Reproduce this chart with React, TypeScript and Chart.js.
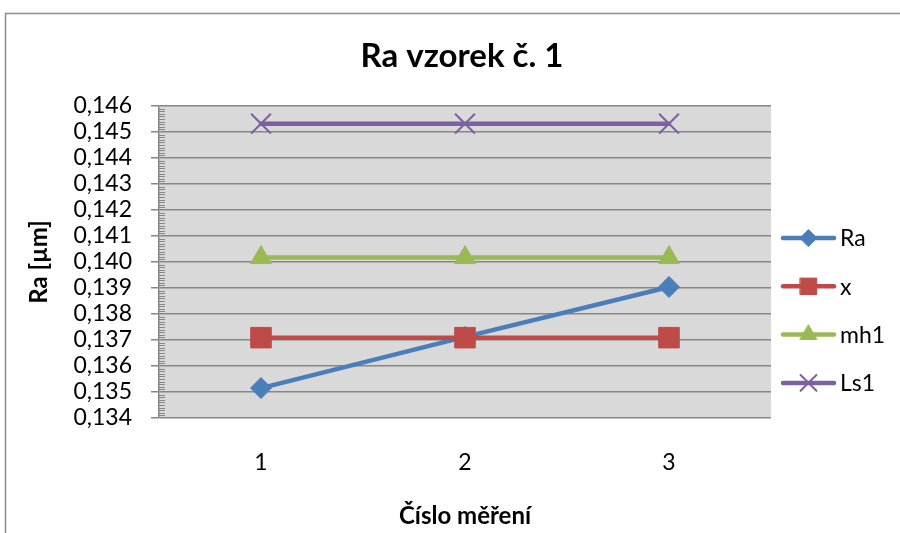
import React, { useEffect, useRef } from 'react';
import { Chart, registerables } from 'chart.js';
import { drawPoint } from 'chart.js/helpers';

Chart.register(...registerables);

const categories = ['1', '2', '3'];
const raValues = [0.13515, 0.13712, 0.13904];
const xValues = [0.13709, 0.13709, 0.13709];
const mh1Values = [0.14017, 0.14017, 0.14017];
const ls1Values = [0.14532, 0.14532, 0.14532];
const seriesNames = ['Ra', 'x', 'mh1', 'Ls1'];
const yMin = 0.134;
const yMax = 0.146;
const yStep = 0.001;
const yMinorStep = 0.0001;
const titleText = 'Ra vzorek č. 1';
const yTitle = 'Ra [µm]';
const xTitle = 'Číslo měření';

const FONT = 'Lato';
const GRID = '#868686';

const bgPlugin = {
  id: 'bgPlugin',
  beforeDraw(chart: any) {
    const { ctx, width, height, chartArea } = chart;
    ctx.save();
    ctx.fillStyle = '#ffffff';
    ctx.fillRect(0, 0, width, height);
    ctx.strokeStyle = '#8c8c8c';
    ctx.lineWidth = 1.5;
    ctx.beginPath();
    ctx.moveTo(5.5, height);
    ctx.lineTo(5.5, 13.5);
    ctx.lineTo(width, 13.5);
    ctx.stroke();
    ctx.fillStyle = '#d9d9d9';
    ctx.fillRect(chartArea.left, chartArea.top, chartArea.right - chartArea.left, chartArea.bottom - chartArea.top);
    ctx.restore();
  },
  beforeDatasetsDraw(chart: any) {
    const { ctx, chartArea } = chart;
    const y = chart.scales.y;
    ctx.save();
    ctx.strokeStyle = GRID;
    ctx.lineWidth = 1;
    const n = Math.round((yMax - yMin) / yMinorStep);
    for (let i = 0; i <= n; i++) {
      if (i % 10 === 0) continue;
      const v = yMin + i * yMinorStep;
      const py = Math.round(y.getPixelForValue(v)) + 0.5;
      ctx.beginPath();
      ctx.moveTo(chartArea.left, py);
      ctx.lineTo(chartArea.left + 6, py);
      ctx.stroke();
    }
    ctx.restore();
  },
  afterDraw(chart: any) {
    const { ctx } = chart;
    ctx.save();
    ctx.fillStyle = '#000';
    ctx.font = `bold 33px ${FONT}`;
    ctx.textAlign = 'center';
    ctx.textBaseline = 'alphabetic';
    ctx.fillText(titleText, 462, 67);

    chart.data.datasets.forEach((ds: any, i: number) => {
      const ly = 238 + i * 48.3;
      ctx.strokeStyle = ds.borderColor;
      ctx.lineWidth = 4.5;
      ctx.lineCap = 'round';
      ctx.beginPath();
      ctx.moveTo(783, ly);
      ctx.lineTo(834, ly);
      ctx.stroke();
      ctx.fillStyle = ds.pointBackgroundColor;
      ctx.strokeStyle = ds.borderColor;
      ctx.lineWidth = ds.pointBorderWidth;
      drawPoint(ctx, {
        pointStyle: ds.pointStyle,
        rotation: 0,
        radius: ds.pointRadius * 0.8,
        borderWidth: ds.pointBorderWidth,
      } as any, 808.5, ly);
      ctx.fillStyle = '#000';
      ctx.font = `23px ${FONT}`;
      ctx.textAlign = 'left';
      ctx.textBaseline = 'middle';
      ctx.fillText(seriesNames[i], 840, ly + 1);
    });
    ctx.restore();
  },
};

function mk(label: string, data: number[], color: string, style: string, radius: number, bw: number, order: number) {
  return {
    label,
    data,
    borderColor: color,
    backgroundColor: color,
    pointBackgroundColor: color,
    pointBorderColor: color,
    pointStyle: style,
    pointRadius: radius,
    pointHoverRadius: radius,
    pointBorderWidth: bw,
    borderWidth: 4.5,
    borderCapStyle: 'round',
    borderJoinStyle: 'round',
    tension: 0,
    order,
  };
}

export default function App() {
  const ref = useRef<HTMLCanvasElement | null>(null);
  useEffect(() => {
    if (!ref.current) return;
    const chart = new Chart(ref.current, {
      type: 'line',
      data: {
        labels: categories,
        datasets: [
          mk(seriesNames[0], raValues, '#4A7EBB', 'rectRot', 10.5, 1, 4),
          mk(seriesNames[1], xValues, '#BE4B48', 'rect', 14.5, 1, 3),
          mk(seriesNames[2], mh1Values, '#98B954', 'triangle', 12, 1, 2),
          mk(seriesNames[3], ls1Values, '#7D60A0', 'crossRot', 14, 2, 1),
        ] as any,
      },
      options: {
        animation: false,
        responsive: false,
        events: [],
        layout: { padding: { top: 106, right: 129, left: 0, bottom: 0 } },
        plugins: {
          legend: { display: false },
          title: { display: false },
          tooltip: { enabled: false },
        },
        scales: {
          x: {
            type: 'category',
            offset: true,
            grid: { display: false, drawTicks: false },
            border: { display: false },
            ticks: { color: '#000', font: { family: FONT, size: 23 }, padding: 31 },
            title: {
              display: true,
              text: xTitle,
              color: '#000',
              font: { family: FONT, size: 24, weight: 'bold' },
              padding: { top: 0, bottom: 2 },
            },
            afterFit: (s: any) => { s.height = 115; },
          },
          y: {
            type: 'linear',
            min: yMin,
            max: yMax,
            grid: { color: GRID, lineWidth: 1.5, tickLength: 8, drawTicks: true },
            border: { display: true, color: GRID, width: 1.5 },
            ticks: {
              stepSize: yStep,
              autoSkip: false,
              color: '#000',
              font: { family: FONT, size: 23 },
              padding: 19,
              callback: (v: any) => Number(v).toFixed(3).replace('.', ','),
            },
            title: {
              display: true,
              text: yTitle,
              color: '#000',
              font: { family: FONT, size: 24, weight: 'bold' },
              padding: { top: 25, bottom: 0 },
            },
            afterFit: (s: any) => { s.width = 159; },
          },
        },
      } as any,
      plugins: [bgPlugin],
    });
    return () => chart.destroy();
  }, []);
  return (
    <div style={{ position: 'absolute', left: 0, top: 0, width: 900, height: 533 }}>
      <canvas ref={ref} width={900} height={533} style={{ display: 'block' }} />
    </div>
  );
}
